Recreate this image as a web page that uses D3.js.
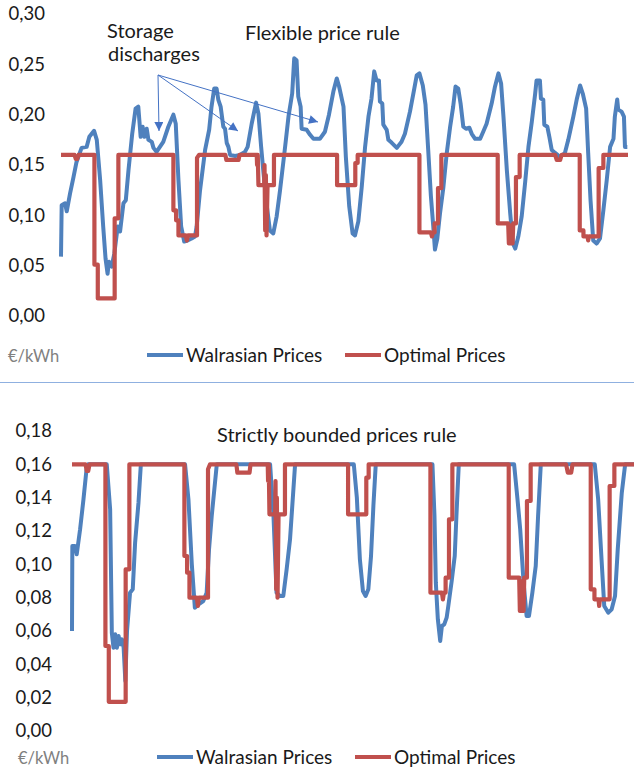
<!DOCTYPE html>
<html>
<head>
<meta charset="utf-8">
<script src="https://cdn.jsdelivr.net/npm/d3@7"></script>
<style>
  body { margin: 0; background: #fff; }
  text { font-family: Lato, "Open Sans", sans-serif; }
</style>
</head>
<body>
<svg id="chart" width="634" height="770"></svg>
<script>
// hours of the week (x) and prices in EUR/kWh (y)

// Optimal prices (same in both panels)
var optT = [0, 4.0, 4.4, 4.8, 5.2, 9.9, 9.9, 10.9, 10.9, 15.9, 15.9, 17.0, 17.0,
  33.3, 33.3, 34.1, 34.1, 34.8, 34.8, 37.0, 37.3, 37.6, 40.3, 40.3, 40.9,
  48.7, 49.0, 52.6, 52.9, 58.0, 58.1, 58.3, 58.5, 60.2, 60.3, 60.5, 60.7, 60.9, 61.2, 63.1, 63.1,
  81.8, 81.8, 87.2, 87.2, 87.9, 87.9, 106.2, 106.2, 109.6, 109.9, 110.2, 110.7, 110.7, 111.7, 111.7, 112.7, 112.7,
  129.4, 129.4, 132.5, 132.7, 133.0, 133.3, 133.6, 133.8, 134.0, 134.8, 134.8, 135.9, 135.9,
  146.4, 146.9, 147.9, 148.3, 153.7, 153.7, 154.8, 154.8, 156.0, 156.2, 156.4, 159.3, 159.3, 160.7, 160.7, 168];
var optV = [0.16, 0.16, 0.156, 0.156, 0.16, 0.16, 0.051, 0.051, 0.0175, 0.0175, 0.097, 0.097, 0.16,
  0.16, 0.105, 0.105, 0.095, 0.095, 0.080, 0.080, 0.075, 0.080, 0.080, 0.157, 0.16,
  0.16, 0.155, 0.155, 0.16, 0.16, 0.150, 0.16, 0.13, 0.13, 0.15, 0.085, 0.14, 0.08, 0.13, 0.13, 0.16,
  0.16, 0.13, 0.13, 0.152, 0.152, 0.16, 0.16, 0.083, 0.083, 0.079, 0.083, 0.083, 0.092, 0.092, 0.127, 0.127, 0.16,
  0.16, 0.092, 0.092, 0.072, 0.09, 0.072, 0.09, 0.072, 0.092, 0.092, 0.138, 0.138, 0.16,
  0.16, 0.155, 0.155, 0.16, 0.16, 0.085, 0.085, 0.079, 0.079, 0.075, 0.079, 0.079, 0.147, 0.147, 0.16, 0.16];

// Walrasian prices, flexible price rule
var walT = [0.0, 0.2, 1.2, 1.7, 2.7, 3.7, 4.6, 6.1, 7.6, 8.4, 9.8, 10.6, 11.6, 12.5, 13.2, 13.8, 14.2, 15.0, 15.8,
  16.8, 17.5, 18.5, 19.2, 20.0, 21.1, 22.1, 22.9, 23.6, 24.2, 24.7, 25.4, 25.9, 26.9, 27.4, 28.3, 29.3, 30.3,
  31.8, 33.3, 34.0, 34.8, 35.6, 36.5, 37.5, 38.7, 39.7, 40.2, 41.2, 42.7, 43.9, 44.6, 45.4, 46.1, 46.6, 47.3,
  48.1, 48.6, 49.1, 49.6, 50.1, 51.6, 53.0, 54.5, 55.3, 56.5, 57.8, 58.5, 59.3, 60.0, 61.0, 61.9, 62.9, 63.9,
  64.9, 66.4, 67.4, 68.5, 69.1, 69.8, 70.3, 71.0, 71.3, 72.8, 73.8, 74.8, 76.7, 78.2, 79.4, 80.7, 81.7, 82.4,
  83.7, 84.4, 85.4, 86.4, 87.1, 88.1, 89.1, 90.1, 91.1, 92.0, 92.8, 93.5, 94.2, 94.5, 95.2, 95.5, 96.5, 97.0,
  98.0, 99.5, 100.9, 101.9, 103.4, 104.4, 105.4, 106.2, 107.2, 108.0, 108.8, 109.6, 110.3, 110.8, 111.5, 112.3,
  113.3, 114.3, 115.3, 116.2, 116.9, 117.7, 118.4, 119.2, 120.0, 121.0, 121.7, 122.7, 124.2, 125.1, 126.1,
  127.6, 128.6, 129.6, 130.4, 131.1, 132.1, 133.1, 133.9, 134.6, 135.5, 136.5, 137.5, 138.5, 139.5, 140.5,
  140.9, 141.9, 142.2, 142.9, 143.2, 144.1, 144.7, 145.4, 146.4, 147.9, 149.3, 150.3, 151.8, 152.8, 153.8,
  154.6, 155.6, 156.2, 156.9, 157.7, 158.7, 159.7, 160.7, 161.7, 162.7, 163.7, 164.1, 164.8, 165.1, 166.1,
  166.8, 167.1, 167.8];
var walV = [0.059, 0.110, 0.112, 0.104, 0.122, 0.138, 0.153, 0.167, 0.168, 0.178, 0.184, 0.175, 0.135, 0.089, 0.057, 0.042, 0.054, 0.049, 0.062,
  0.089, 0.084, 0.112, 0.115, 0.145, 0.181, 0.206, 0.208, 0.178, 0.188, 0.178, 0.186, 0.175, 0.173, 0.167, 0.163, 0.168, 0.173,
  0.188, 0.200, 0.191, 0.135, 0.089, 0.074, 0.075, 0.077, 0.079, 0.089, 0.125, 0.165, 0.185, 0.208, 0.226, 0.226, 0.215, 0.208,
  0.188, 0.186, 0.172, 0.168, 0.160, 0.159, 0.160, 0.163, 0.168, 0.191, 0.212, 0.201, 0.168, 0.142, 0.109, 0.085, 0.082, 0.099,
  0.125, 0.168, 0.198, 0.221, 0.256, 0.254, 0.218, 0.208, 0.186, 0.185, 0.180, 0.176, 0.176, 0.183, 0.200, 0.223, 0.236, 0.228,
  0.208, 0.158, 0.109, 0.082, 0.080, 0.094, 0.128, 0.168, 0.198, 0.216, 0.243, 0.234, 0.234, 0.213, 0.211, 0.190, 0.185, 0.175,
  0.172, 0.167, 0.173, 0.181, 0.203, 0.221, 0.239, 0.241, 0.229, 0.210, 0.165, 0.119, 0.089, 0.066, 0.077, 0.102,
  0.128, 0.162, 0.188, 0.208, 0.228, 0.226, 0.211, 0.188, 0.186, 0.187, 0.181, 0.176, 0.176, 0.183, 0.191,
  0.211, 0.228, 0.241, 0.231, 0.198, 0.145, 0.102, 0.072, 0.067, 0.079, 0.099, 0.132, 0.168, 0.193, 0.221,
  0.234, 0.234, 0.216, 0.215, 0.190, 0.188, 0.178, 0.165, 0.162, 0.158, 0.162, 0.175, 0.198, 0.215, 0.229,
  0.221, 0.206, 0.162, 0.115, 0.075, 0.072, 0.077, 0.105, 0.135, 0.168, 0.176, 0.198, 0.215, 0.205, 0.203,
  0.198, 0.168, 0.168];

// Walrasian prices, strictly bounded prices rule
var bndT = [0.0, 0.1, 0.9, 1.4, 2.4, 3.4, 4.3, 4.8, 10.3, 11.3, 11.8, 12.3, 12.8, 13.3, 13.8, 14.3, 14.8, 15.3, 15.8,
  16.3, 17.2, 18.0, 18.7, 19.7, 20.4, 33.5, 34.5, 35.5, 36.4, 37.5, 38.9, 39.9, 40.6, 41.4, 42.9,
  58.7, 59.7, 60.6, 61.6, 62.6, 63.6, 64.6, 66.1, 83.5, 84.4, 85.3, 86.2, 87.0, 87.8, 88.6, 89.3, 90.0,
  106.8, 107.4, 107.8, 108.4, 109.1, 109.6, 110.3, 111.0, 111.5, 112.5, 113.4, 113.9, 114.6,
  131.0, 132.0, 132.8, 133.8, 134.7, 135.4, 136.4, 137.4, 138.1, 138.9,
  154.9, 155.9, 156.9, 157.7, 158.9, 159.9, 160.9, 161.7, 162.9, 163.9, 168];
var bndV = [0.060, 0.111, 0.111, 0.106, 0.121, 0.139, 0.157, 0.16, 0.16, 0.133, 0.059, 0.050, 0.058, 0.050, 0.057, 0.052, 0.055, 0.050, 0.030,
  0.060, 0.083, 0.085, 0.113, 0.137, 0.16, 0.16, 0.139, 0.100, 0.074, 0.076, 0.078, 0.083, 0.109, 0.129, 0.16,
  0.16, 0.129, 0.083, 0.081, 0.081, 0.097, 0.115, 0.16, 0.16, 0.140, 0.103, 0.084, 0.081, 0.085, 0.105, 0.135, 0.16,
  0.16, 0.129, 0.089, 0.067, 0.054, 0.063, 0.064, 0.068, 0.075, 0.090, 0.105, 0.129, 0.16,
  0.16, 0.139, 0.121, 0.089, 0.069, 0.069, 0.083, 0.099, 0.129, 0.16,
  0.16, 0.139, 0.103, 0.075, 0.071, 0.073, 0.081, 0.109, 0.143, 0.16, 0.16];

var topTicks = [0, 0.05, 0.10, 0.15, 0.20, 0.25, 0.30];
var botTicks = [0, 0.02, 0.04, 0.06, 0.08, 0.10, 0.12, 0.14, 0.16, 0.18];

var BLUE = '#4f81bd';
var RED = '#c0504d';

var svg = d3.select('#chart');

function fmt(d) {
  return d.toFixed(2).replace('.', ',');
}

function drawPanel(opts) {
  var x = d3.scaleLinear().domain([0, 168]).range([opts.left, opts.left + 567]);
  var y = d3.scaleLinear().domain([0, opts.max]).range([opts.bottom, opts.top]);

  var axis = svg.append('g')
    .attr('transform', 'translate(' + opts.left + ',0)')
    .call(d3.axisLeft(y).tickValues(opts.ticks).tickSize(0).tickPadding(opts.pad).tickFormat(fmt));
  axis.select('.domain').remove();
  axis.selectAll('text').attr('font-size', 18.5).attr('fill', '#1a1a1a')
    .style('font-family', 'Lato, sans-serif');

  var line = d3.line().x(function(d) { return x(d[0]); }).y(function(d) { return y(d[1]); });

  svg.append('path')
    .datum(d3.zip(opts.blueT, opts.blueV))
    .attr('d', line)
    .attr('fill', 'none')
    .attr('stroke', BLUE)
    .attr('stroke-width', 4)
    .attr('stroke-linejoin', 'round');

  svg.append('path')
    .datum(d3.zip(optT, optV))
    .attr('d', line)
    .attr('fill', 'none')
    .attr('stroke', RED)
    .attr('stroke-width', 4.2)
    .attr('stroke-linejoin', 'round');

  // legend
  svg.append('text').attr('x', opts.unitX).attr('y', opts.legY + 7)
    .attr('font-size', 16.5).attr('fill', '#808080').text('€/kWh');
  var items = [{name: 'Walrasian Prices', c: BLUE, x: opts.legX1}, {name: 'Optimal Prices', c: RED, x: opts.legX2}];
  items.forEach(function(it) {
    svg.append('line').attr('x1', it.x).attr('x2', it.x + 36)
      .attr('y1', opts.legY).attr('y2', opts.legY)
      .attr('stroke', it.c).attr('stroke-width', 4);
    svg.append('text').attr('x', it.x + 39).attr('y', opts.legY + 7)
      .attr('font-size', 19).attr('fill', '#1a1a1a').text(it.name);
  });
}

drawPanel({left: 61, top: 14, bottom: 316, max: 0.30, ticks: topTicks, pad: 16,
  blueT: walT, blueV: walV, unitX: 8, legY: 355, legX1: 147, legX2: 345});
drawPanel({left: 72, top: 431, bottom: 731, max: 0.18, ticks: botTicks, pad: 20,
  blueT: bndT, blueV: bndV, unitX: 18, legY: 757, legX1: 157, legX2: 355});

// separator
svg.append('line').attr('x1', 0).attr('x2', 634).attr('y1', 382.5).attr('y2', 382.5)
  .attr('stroke', '#8fb0e0').attr('stroke-width', 1);

// titles and notes
svg.append('text').attr('x', 245).attr('y', 40).attr('font-size', 20).attr('fill', '#1a1a1a').text('Flexible price rule');
svg.append('text').attr('x', 107).attr('y', 38).attr('font-size', 20).attr('fill', '#1a1a1a').text('Storage');
svg.append('text').attr('x', 108).attr('y', 61).attr('font-size', 20).attr('fill', '#1a1a1a').text('discharges');
svg.append('text').attr('x', 217).attr('y', 442).attr('font-size', 20).attr('fill', '#1a1a1a').text('Strictly bounded prices rule');

// arrows
svg.append('defs').append('marker')
  .attr('id', 'head').attr('viewBox', '0 0 10 10').attr('refX', 10).attr('refY', 5)
  .attr('markerWidth', 10).attr('markerHeight', 9).attr('markerUnits', 'userSpaceOnUse')
  .attr('orient', 'auto')
  .append('path').attr('d', 'M0,0L10,5L0,10Z').attr('fill', '#4472c4');
[[159, 131], [238, 131], [318, 122]].forEach(function(p) {
  svg.append('line').attr('x1', 158).attr('y1', 75).attr('x2', p[0]).attr('y2', p[1])
    .attr('stroke', '#4472c4').attr('stroke-width', 1).attr('marker-end', 'url(#head)');
});
</script>
</body>
</html>
